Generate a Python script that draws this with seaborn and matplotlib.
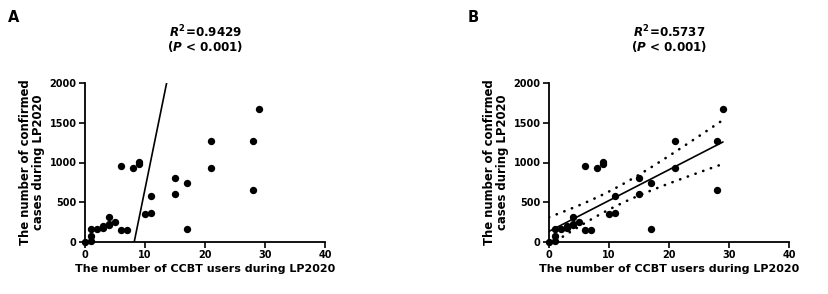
import numpy as np
import pandas as pd
import matplotlib
matplotlib.use("Agg")
import matplotlib.pyplot as plt
import seaborn as sns

# ---- data ----
ccbt_users = [0, 1, 1, 1, 2, 3, 3, 4, 4, 4, 5, 6, 6, 7, 8, 9, 9, 10, 11, 11,
              15, 15, 17, 17, 21, 21, 28, 28, 29]
confirmed = [0, 10, 70, 160, 165, 180, 200, 215, 230, 320, 250, 950, 150, 145,
             935, 1010, 985, 350, 360, 580, 800, 600, 740, 160, 1275, 925,
             1270, 650, 1670]
panel_labels = ["A", "B"]
r2_texts = ["$R^2$=0.9429", "$R^2$=0.5737"]
p_texts = ["($P$ < 0.001)", "($P$ < 0.001)"]
xticks = [0, 10, 20, 30, 40]
yticks = [0, 500, 1000, 1500, 2000]
# panel A fitted line (as drawn): x-intercept and slope
fit_a_xintercept = 8.2
fit_a_slope = 370.0
t_crit = 2.052  # 95% t for df = 27

df = pd.DataFrame({"x": ccbt_users, "y": confirmed})

sns.set_theme(style="ticks")
FAM = ["DejaVu Sans"]
plt.rcParams["font.family"] = FAM
plt.rcParams["font.weight"] = "bold"
plt.rcParams["mathtext.fontset"] = "custom"
plt.rcParams["mathtext.rm"] = "DejaVu Sans:bold"
plt.rcParams["mathtext.it"] = "DejaVu Sans:italic:bold"
plt.rcParams["mathtext.bf"] = "DejaVu Sans:bold"

fig = plt.figure(figsize=(8.29, 2.94), dpi=100)
W, H = 829, 294
lefts = [85, 549]
axes = []
for i, lp in enumerate(lefts):
    ax = fig.add_axes([lp / W, (H - 242) / H, 240 / W, 159 / H])
    axes.append(ax)
    sns.scatterplot(data=df, x="x", y="y", ax=ax, color="black", s=28,
                    linewidth=0, clip_on=False, zorder=3)
    ax.set_xlim(0, 40)
    ax.set_ylim(0, 2000)
    ax.set_xticks(xticks)
    ax.set_yticks(yticks)
    ax.tick_params(axis="both", which="major", length=4, width=1.2,
                   color="black", labelsize=7, pad=2, labelcolor="black")
    for lab in ax.get_xticklabels() + ax.get_yticklabels():
        lab.set_fontweight("bold")
    sns.despine(ax=ax)
    for sp in ["left", "bottom"]:
        ax.spines[sp].set_linewidth(1.3)
        ax.spines[sp].set_color("black")
    ax.set_xlabel("The number of CCBT users during LP2020", fontsize=8.0,
                  fontweight="bold", color="black", labelpad=2.5)
    ax.set_ylabel("The number of confirmed\ncases during LP2020", fontsize=8.4,
                  fontweight="bold", color="black", labelpad=3, linespacing=1.0)
    ax.text(0.5, (242 - 37) / 159, r2_texts[i], transform=ax.transAxes,
            ha="center", va="baseline", fontsize=8.6, fontweight="bold",
            color="black")
    ax.text(0.5, (242 - 51) / 159, p_texts[i], transform=ax.transAxes,
            ha="center", va="baseline", fontsize=8.6, fontweight="bold",
            color="black")
    fig.text((lp - 77 - (4 if i else 0)) / W, 1 - 22 / H, panel_labels[i],
             fontsize=10.5, fontweight="bold", color="black")

# Panel A line
axes[0].axline((fit_a_xintercept, 0), slope=fit_a_slope, color="black", lw=1.2)

# Panel B regression with 95% confidence bands
x = np.asarray(ccbt_users, float)
y = np.asarray(confirmed, float)
b, a = np.polyfit(x, y, 1)
n = len(x)
resid = y - (a + b * x)
s = np.sqrt(np.sum(resid ** 2) / (n - 2))
xx = np.linspace(x.min(), x.max(), 100)
yy = a + b * xx
se = s * np.sqrt(1 / n + (xx - x.mean()) ** 2 / np.sum((x - x.mean()) ** 2))
axb = axes[1]
sns.lineplot(x=xx, y=yy, ax=axb, color="black", lw=1.2)
for sign in (1, -1):
    axb.plot(xx, yy + sign * t_crit * se, color="black", lw=1.9,
             linestyle=(0, (0.1, 3.0)), dash_capstyle="round")

fig.savefig("out.png", dpi=100, facecolor="white")
